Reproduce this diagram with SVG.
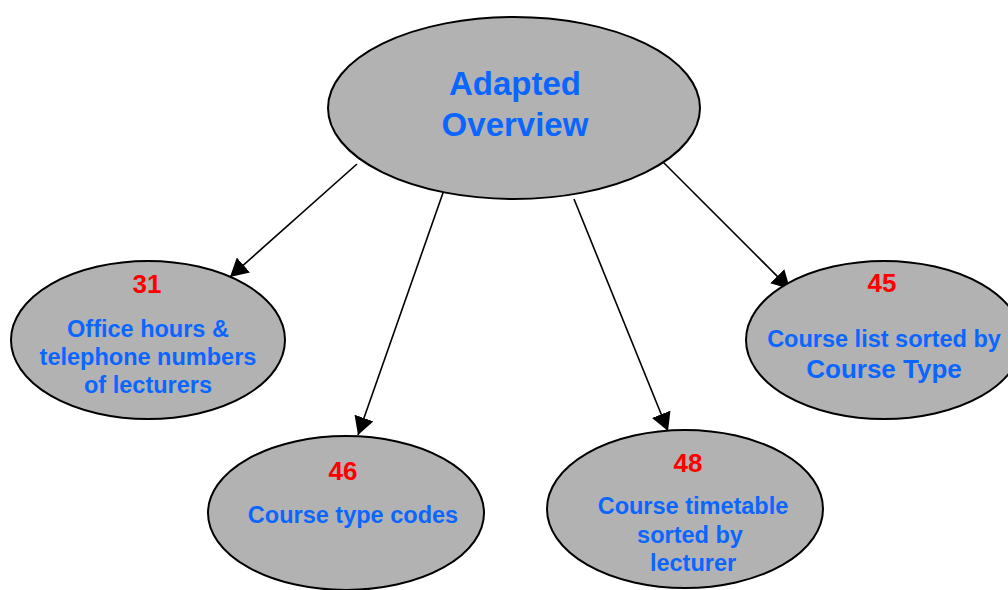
<svg xmlns="http://www.w3.org/2000/svg" width="1008" height="590" viewBox="0 0 1008 590">
  <style>
    .node { fill: #b2b2b2; stroke: #000; stroke-width: 2; }
    .title { font-family: "Liberation Sans", Arial, sans-serif; font-weight: bold; fill: #0a66ff; text-anchor: middle; font-size: 33px; }
    .num { font-family: "Liberation Sans", Arial, sans-serif; font-weight: bold; fill: #ff0000; text-anchor: middle; font-size: 26px; }
    .lbl { font-family: "Liberation Sans", Arial, sans-serif; font-weight: bold; fill: #0a66ff; text-anchor: middle; font-size: 23.5px; }
    .lbl-big { font-size: 26px; }
    .edge { stroke: #000; stroke-width: 1.6; fill: none; marker-end: url(#arrow); }
  </style>
  <defs>
    <marker id="arrow" markerUnits="userSpaceOnUse" markerWidth="20" markerHeight="20" refX="18" refY="10" orient="auto">
      <path d="M0,0 L18,10 L0,20 Z" fill="#000"/>
    </marker>
  </defs>
  <rect width="1008" height="590" fill="#fff"/>

  <g id="connectors">
    <line class="edge" x1="357" y1="164" x2="230" y2="277"/>
    <line class="edge" x1="444" y1="190" x2="358" y2="435"/>
    <line class="edge" x1="574" y1="199" x2="668" y2="431"/>
    <line class="edge" x1="661" y1="160" x2="790" y2="289"/>
  </g>

  <g id="overview">
    <ellipse class="node" cx="514" cy="108" rx="186" ry="91"/>
    <text class="title" x="515" y="95">Adapted</text>
    <text class="title" x="515" y="136">Overview</text>
  </g>

  <g id="n31">
    <ellipse class="node" cx="148" cy="340" rx="137" ry="79"/>
    <text class="num" x="147" y="293">31</text>
    <text class="lbl" x="148" y="337">Office hours &amp;</text>
    <text class="lbl" x="148" y="365">telephone numbers</text>
    <text class="lbl" x="148" y="393">of lecturers</text>
  </g>

  <g id="n46">
    <ellipse class="node" cx="346" cy="513" rx="138" ry="77"/>
    <text class="num" x="343" y="480">46</text>
    <text class="lbl" x="353" y="523">Course type codes</text>
  </g>

  <g id="n48">
    <ellipse class="node" cx="685" cy="509" rx="138" ry="79"/>
    <text class="num" x="688" y="472">48</text>
    <text class="lbl" x="693" y="514">Course timetable</text>
    <text class="lbl" x="690" y="543">sorted by</text>
    <text class="lbl" x="693" y="571">lecturer</text>
  </g>

  <g id="n45">
    <ellipse class="node" cx="884" cy="340" rx="138" ry="79"/>
    <text class="num" x="882" y="292">45</text>
    <text class="lbl" x="884" y="347">Course list sorted by</text>
    <text class="lbl lbl-big" x="884" y="378">Course Type</text>
  </g>
</svg>
